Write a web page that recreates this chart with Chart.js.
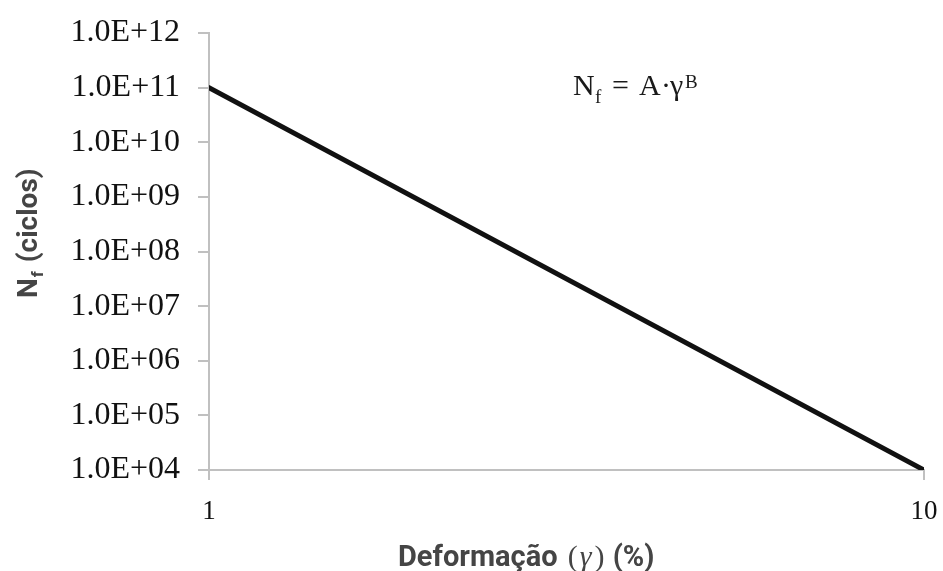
<!DOCTYPE html>
<html>
<head>
<meta charset="utf-8">
<script src="https://cdn.jsdelivr.net/npm/chart.js@4.4.1/dist/chart.umd.min.js"></script>
<style>
  html, body { margin: 0; padding: 0; background: #fff; }
  #wrap { width: 943px; height: 571px; }
</style>
</head>
<body>
<div id="wrap"><canvas id="c" width="943" height="571"></canvas></div>
<script>
// Fatigue curve N_f = A * gamma^B (straight line on log-log axes)
const strainPct = [1, 10];
const cyclesToFailure = [1e11, 1e4];
const xTickValues = [1, 10];
const yTickValues = [1e4, 1e5, 1e6, 1e7, 1e8, 1e9, 1e10, 1e11, 1e12];

const AXIS_GREY = '#c0c0c0';
const TITLE_GREY = '#454545';

function sci(v) {
  const exp = Math.round(Math.log10(v));
  const mant = v / Math.pow(10, exp);
  const sign = exp < 0 ? '-' : '+';
  return mant.toFixed(1) + 'E' + sign + String(Math.abs(exp)).padStart(2, '0');
}

// Axis titles and the formula annotation, drawn in mixed fonts
const annotations = {
  id: 'annotations',
  afterDraw(chart) {
    const ctx = chart.ctx;
    ctx.save();
    ctx.fillStyle = TITLE_GREY;
    ctx.textBaseline = 'alphabetic';
    ctx.textAlign = 'left';

    // y title: N_f (ciclos), rotated
    ctx.save();
    ctx.translate(37, 298);
    ctx.rotate(-Math.PI / 2);
    let x = 0;
    ctx.font = 'bold 28px Roboto';
    ctx.fillText('N', x, 0); x += ctx.measureText('N').width + 1;
    ctx.font = 'bold 17px Roboto';
    ctx.fillText('f', x, 6); x += ctx.measureText('f').width + 2;
    ctx.font = 'bold 28px Roboto';
    ctx.fillText(' (ciclos)', x, 0);
    ctx.restore();

    // x title: Deformação (γ) (%)
    x = 398;
    const by = 566;
    ctx.font = 'bold 29px Roboto';
    ctx.fillText('Deformação ', x, by); x += ctx.measureText('Deformação ').width + 3;
    ctx.font = '30px "Liberation Serif"';
    ctx.fillText('(', x, by); x += ctx.measureText('(').width + 2;
    ctx.font = 'italic 30px "Liberation Serif"';
    ctx.fillText('γ', x, by); x += ctx.measureText('γ').width + 3;
    ctx.font = '30px "Liberation Serif"';
    ctx.fillText(')', x, by); x += ctx.measureText(')').width + 1;
    ctx.font = 'bold 29px Roboto';
    ctx.fillText(' (%)', x, by);

    // formula: N_f = A·γ^B
    ctx.fillStyle = '#1a1a1a';
    const fy = 95;
    ctx.font = '30px "Liberation Serif"';
    ctx.fillText('N', 573, fy);
    ctx.fillText('=', 612, fy);
    ctx.fillText('A', 639, fy);
    ctx.fillText('·', 661, fy);
    ctx.fillText('γ', 670, fy);
    ctx.font = '19px "Liberation Serif"';
    ctx.fillText('f', 595, 103);
    ctx.fillText('B', 685, 88);

    ctx.restore();
  }
};

new Chart(document.getElementById('c'), {
  type: 'line',
  data: {
    datasets: [{
      data: strainPct.map((s, i) => ({ x: s, y: cyclesToFailure[i] })),
      borderColor: '#111',
      borderWidth: 5,
      borderCapStyle: 'round',
      pointRadius: 0,
      tension: 0,
      fill: false
    }]
  },
  options: {
    responsive: false,
    animation: false,
    devicePixelRatio: 1,
    layout: { padding: { top: 33, right: 19, left: 0, bottom: 0 } },
    plugins: { legend: { display: false }, tooltip: { enabled: false } },
    scales: {
      x: {
        type: 'logarithmic',
        position: 'bottom',
        min: 1,
        max: 10,
        afterBuildTicks: s => { s.ticks = xTickValues.map(v => ({ value: v })); },
        afterFit: s => {
          s.height = 101;
          s.paddingLeft = 0;
          s.paddingRight = 0;
        },
        ticks: {
          callback: v => String(v),
          font: { family: 'Liberation Serif', size: 27 },
          color: '#111',
          padding: 16,
          maxRotation: 0,
          autoSkip: false
        },
        grid: { drawOnChartArea: false, drawTicks: true, tickLength: 10, color: AXIS_GREY, lineWidth: 2 },
        border: { color: AXIS_GREY, width: 2 }
      },
      y: {
        type: 'logarithmic',
        min: 1e4,
        max: 1e12,
        afterBuildTicks: s => { s.ticks = yTickValues.map(v => ({ value: v })); },
        afterFit: s => {
          s.width = 209;
          s.paddingTop = 0;
          s.paddingBottom = 0;
        },
        ticks: {
          callback: v => sci(v),
          font: { family: 'Liberation Serif', size: 32 },
          color: '#111',
          padding: 18,
          autoSkip: false
        },
        grid: { drawOnChartArea: false, drawTicks: true, tickLength: 11, color: AXIS_GREY, lineWidth: 2 },
        border: { color: AXIS_GREY, width: 2 }
      }
    }
  },
  plugins: [annotations]
});
</script>
</body>
</html>
